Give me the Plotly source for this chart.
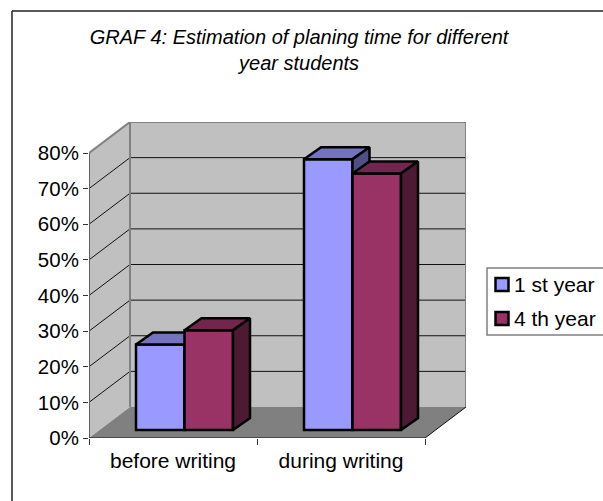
import plotly.graph_objects as go

categories = ["before writing", "during writing"]
series_names = ["1 st year", "4 th year"]
first_year = [0.24, 0.76]
fourth_year = [0.28, 0.72]
y_ticks = [0, 0.1, 0.2, 0.3, 0.4, 0.5, 0.6, 0.7, 0.8]
y_labels = ["0%", "10%", "20%", "30%", "40%", "50%", "60%", "70%", "80%"]

# pixels per axis unit, used to turn the fake 3d depth into data units
px_x = 168.0
px_y = 356.25
wall_dx = 41 / px_x
wall_dy = 31 / px_y
bar_dx = 17 / px_x
bar_dy = 12 / px_y
bar_width = 48.5 / px_x
bar_lift = 8 / px_y
bar_shift = 11.5 / px_x

x_left = -0.5
x_right = 1.5
y_top = 0.8

FONT = "Liberation Sans"
WALL = "#C0C0C0"
FLOOR = "#808080"
EDGE = "#808080"
FRONT = ["#9999FF", "#993366"]

# plot area in page pixels
plot_l, plot_r, plot_t, plot_b = 89, 466, 122, 438


def paper_x(px):
    return (px - plot_l) / (plot_r - plot_l)


def paper_y(px):
    return (plot_b - px) / (plot_b - plot_t)


def poly(points, fill, line=None, width=0, layer="below"):
    path = "M" + " L".join(f"{x},{y}" for x, y in points) + " Z"
    return dict(type="path", path=path, xref="x", yref="y", fillcolor=fill,
                line=dict(color=line or fill, width=width), layer=layer)


def seg(x0, y0, x1, y1, color="#111111", width=1):
    return dict(type="line", x0=x0, y0=y0, x1=x1, y1=y1, xref="x", yref="y",
                line=dict(color=color, width=width), layer="below")


shapes = []
# walls and floor
shapes.append(poly([(x_left, 0), (x_left, y_top), (x_left + wall_dx, y_top + wall_dy),
                    (x_left + wall_dx, wall_dy)], WALL))
shapes.append(poly([(x_left + wall_dx, wall_dy), (x_left + wall_dx, y_top + wall_dy),
                    (x_right + wall_dx, y_top + wall_dy), (x_right + wall_dx, wall_dy)], WALL))
shapes.append(poly([(x_left, 0), (x_left + wall_dx, wall_dy), (x_right + wall_dx, wall_dy),
                    (x_right, 0)], FLOOR))
# gridlines
for t in y_ticks[1:-1]:
    shapes.append(seg(x_left, t, x_left + wall_dx, t + wall_dy))
    shapes.append(seg(x_left + wall_dx, t + wall_dy, x_right + wall_dx, t + wall_dy))
shapes.append(seg(x_left, y_top, x_left + wall_dx, y_top + wall_dy, EDGE, 2))
shapes.append(seg(x_left + wall_dx, wall_dy, x_left + wall_dx, y_top + wall_dy, EDGE, 2))
shapes.append(seg(x_left + wall_dx, y_top + wall_dy, x_right + wall_dx, y_top + wall_dy, EDGE, 2))
shapes.append(seg(x_right + wall_dx, wall_dy, x_right + wall_dx, y_top + wall_dy, EDGE, 2))
shapes.append(seg(x_right, 0, x_right + wall_dx, wall_dy, "#111111", 1))
# axis lines
shapes.append(seg(x_left, 0, x_left, y_top, "#606060", 2))
shapes.append(seg(x_left, 0, x_right, 0, "#111111", 1))

# chart frame, runs off the right and bottom of the page
for x0, y0, x1, y1 in [(12, 11, 12, 501), (12, 11, 603, 11)]:
    shapes.append(dict(type="line", xref="paper", yref="paper",
                       x0=paper_x(x0), x1=paper_x(x1), y0=paper_y(y0), y1=paper_y(y1),
                       line=dict(color="#222222", width=1.5)))

# legend box and keys
shapes.append(dict(type="rect", xref="paper", yref="paper",
                   x0=paper_x(487), x1=paper_x(610), y0=paper_y(335), y1=paper_y(268),
                   line=dict(color="#808080", width=1.5), fillcolor="white"))
annotations = []
for i, name in enumerate(series_names):
    key_top = 278 + 34 * i
    shapes.append(dict(type="rect", xref="paper", yref="paper",
                       x0=paper_x(495.5), x1=paper_x(508.5),
                       y0=paper_y(key_top + 13), y1=paper_y(key_top),
                       fillcolor=FRONT[i], line=dict(color="black", width=2.5)))
    annotations.append(dict(text=name, xref="paper", yref="paper", showarrow=False,
                            x=paper_x(512), y=paper_y(key_top + 6.5),
                            xanchor="left", yanchor="middle",
                            font=dict(family=FONT, size=21, color="black")))


def add_series(fig, values, name, front, top, side, shift, axis):
    xs = [i + bar_shift + shift for i in range(len(categories))]
    fig.add_trace(go.Bar(x=xs, y=values, base=[bar_lift] * len(values), width=bar_width,
                         name=name, xaxis=axis,
                         marker=dict(color=front, line=dict(color="black", width=2.5))))
    for x, v in zip(xs, values):
        x0 = x - bar_width / 2
        x1 = x + bar_width / 2
        y1 = v + bar_lift
        fig.add_trace(go.Scatter(
            x=[x0, x1, x1 + bar_dx, x0 + bar_dx, x0],
            y=[y1, y1, y1 + bar_dy, y1 + bar_dy, y1],
            fill="toself", fillcolor=top, mode="lines", xaxis=axis,
            line=dict(color="black", width=2.5), hoverinfo="skip"))
        fig.add_trace(go.Scatter(
            x=[x1, x1 + bar_dx, x1 + bar_dx, x1, x1],
            y=[bar_lift, bar_lift + bar_dy, y1 + bar_dy, y1, bar_lift],
            fill="toself", fillcolor=side, mode="lines", xaxis=axis,
            line=dict(color="black", width=2.5), hoverinfo="skip"))


fig = go.Figure()
add_series(fig, first_year, series_names[0], FRONT[0], "#7373BF", "#4F4F85", -bar_width / 2, "x")
add_series(fig, fourth_year, series_names[1], FRONT[1], "#73264D", "#4D1A33", bar_width / 2, "x2")

fig.update_layout(
    width=603, height=501, autosize=False,
    margin=dict(l=plot_l, r=603 - plot_r, t=plot_t, b=501 - plot_b),
    paper_bgcolor="white", plot_bgcolor="white",
    font=dict(family=FONT, size=20, color="black"),
    barmode="overlay",
    showlegend=False,
    title=dict(text="GRAF 4: Estimation of planing time for different<br>year students",
               x=0.496, xanchor="center", y=0.912, yanchor="top",
               font=dict(family=FONT, size=20, style="italic", color="black")),
    shapes=shapes,
    annotations=annotations,
    xaxis=dict(range=[x_left, x_right + wall_dx], tickvals=[0, 1], ticktext=categories,
               ticks="", showgrid=False, zeroline=False, showline=False,
               ticklabelstandoff=8, tickfont=dict(size=21),
               minor=dict(tickvals=[-0.5, 0.5, 1.5], ticks="outside", ticklen=6,
                          tickcolor="#333333", showgrid=False)),
    xaxis2=dict(range=[x_left, x_right + wall_dx], overlaying="x", visible=False),
    yaxis=dict(range=[0, y_top + wall_dy], tickvals=y_ticks, ticktext=y_labels,
               ticks="outside", ticklen=5, tickcolor="#333333", showgrid=False,
               zeroline=False, showline=False, tickfont=dict(size=20.5)),
)

fig.write_html("out.html", config={"displayModeBar": False},
               post_script="document.body.style.margin='0';")
